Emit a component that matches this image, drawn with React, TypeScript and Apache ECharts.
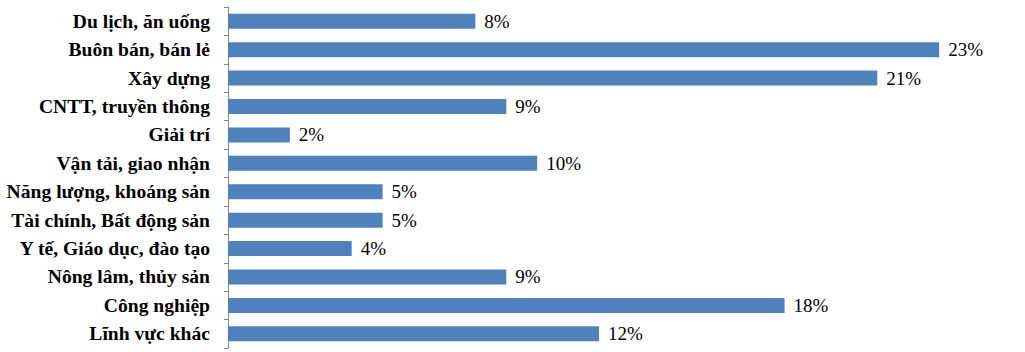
import React, { useEffect, useRef } from "react";
import * as echarts from "echarts";

const categories = [
  "Du lịch, ăn uống",
  "Buôn bán, bán lẻ",
  "Xây dựng",
  "CNTT, truyền thông",
  "Giải trí",
  "Vận tải, giao nhận",
  "Năng lượng, khoáng sản",
  "Tài chính, Bất động sản",
  "Y tế, Giáo dục, đào tạo",
  "Nông lâm, thủy sản",
  "Công nghiệp",
  "Lĩnh vực khác",
];
const shares = [8, 23, 21, 9, 2, 10, 5, 5, 4, 9, 18, 12];

export default function App() {
  const ref = useRef<HTMLDivElement>(null);
  useEffect(() => {
    if (!ref.current) return;
    const chart = echarts.init(ref.current, undefined, { renderer: "svg" });
    chart.setOption({
      animation: false,
      grid: { left: 228, top: 7, height: 341, width: 773 },
      xAxis: {
        type: "value",
        min: 0,
        max: 25,
        show: false,
      },
      yAxis: {
        type: "category",
        data: categories,
        inverse: true,
        axisLine: { show: true, lineStyle: { color: "#868686", width: 1 } },
        axisTick: { show: true, length: 4, lineStyle: { color: "#868686" } },
        axisLabel: {
          margin: 18,
          color: "#000",
          fontFamily: "Liberation Serif",
          fontWeight: "bold",
          fontSize: 19.6,
        },
      },
      series: [
        {
          type: "bar",
          data: shares,
          barWidth: 15,
          itemStyle: { color: "#4f81bd" },
          label: {
            show: true,
            position: "right",
            distance: 9,
            formatter: "{c}%",
            color: "#000",
            fontFamily: "Liberation Serif",
            fontSize: 19,
          },
        },
      ],
    });
    return () => chart.dispose();
  }, []);
  return (
    <div
      ref={ref}
      style={{ position: "absolute", left: 0, top: 0, width: 1025, height: 352 }}
    />
  );
}
